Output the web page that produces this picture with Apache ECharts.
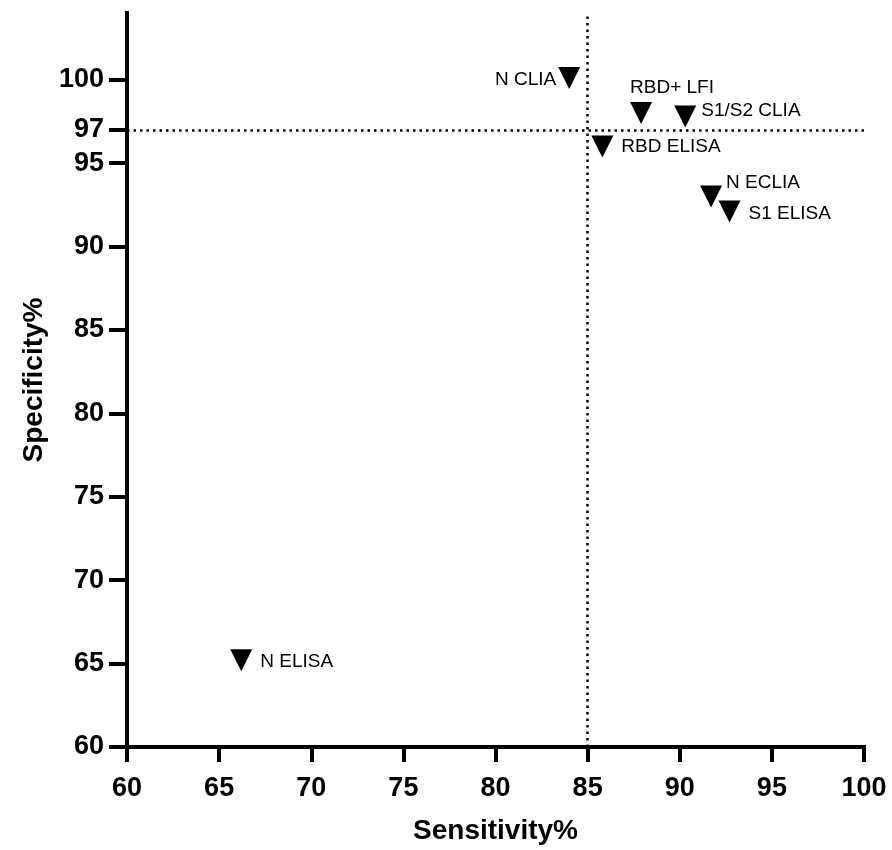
<!DOCTYPE html>
<html>
<head>
<meta charset="utf-8">
<script src="https://cdn.jsdelivr.net/npm/echarts@6/dist/echarts.min.js"></script>
<style>html,body{margin:0;padding:0;background:#fff}#c{width:892px;height:850px}</style>
</head>
<body>
<div id="c"></div>
<script>
// Data
var assayNames = ['N CLIA', 'RBD+ LFI', 'S1/S2 CLIA', 'RBD ELISA', 'N ECLIA', 'S1 ELISA', 'N ELISA'];
var sensitivity = [84.0, 87.9, 90.3, 85.8, 91.7, 92.7, 66.2];
var specificity = [100.1, 98.0, 97.8, 96.0, 93.0, 92.1, 65.2];
var xTicks = [60, 65, 70, 75, 80, 85, 90, 95, 100];
var yTicks = [60, 65, 70, 75, 80, 85, 90, 95, 97, 100];
var cutoffSensitivity = 85;
var cutoffSpecificity = 97;

// Label placement (style, not data)
var labelPlacement = [
  {pos: [-2, 13], align: 'right'},
  {pos: [0, -14], align: 'left'},
  {pos: [27, 5], align: 'left'},
  {pos: [30, 11], align: 'left'},
  {pos: [26, -3], align: 'left'},
  {pos: [30, 13], align: 'left'},
  {pos: [30, 13], align: 'left'}
];

var FONT = '"Liberation Sans", Arial, Helvetica, sans-serif';
var chart = echarts.init(document.getElementById('c'), null, {renderer: 'canvas'});

var points = assayNames.map(function (n, i) {
  return {
    name: n,
    value: [sensitivity[i], specificity[i]],
    label: {
      show: true,
      formatter: n,
      position: labelPlacement[i].pos,
      align: labelPlacement[i].align,
      verticalAlign: 'middle'
    }
  };
});

var axisCommon = {
  axisLine: {show: true, onZero: false, lineStyle: {color: '#000', width: 4, cap: 'square'}},
  axisTick: {show: true, lineStyle: {color: '#000', width: 4}},
  splitLine: {show: false},
  nameLocation: 'middle',
  nameTextStyle: {fontFamily: FONT, fontWeight: 'bold', fontSize: 28, color: '#000'}
};

chart.setOption({
  animation: false,
  backgroundColor: '#fff',
  grid: {left: 127, right: 28, top: 13, bottom: 102, containLabel: false},
  xAxis: Object.assign({}, axisCommon, {
    type: 'value',
    min: 60, max: 100, interval: 5,
    name: 'Sensitivity%',
    nameGap: 70,
    axisTick: {show: true, length: 15, lineStyle: {color: '#000', width: 4}},
    axisLabel: {
      fontFamily: FONT, fontWeight: 'bold', fontSize: 27, color: '#000', margin: 28,
      customValues: xTicks
    }
  }),
  yAxis: Object.assign({}, axisCommon, {
    type: 'value',
    min: 60, max: 104,
    name: 'Specificity%',
    nameGap: 78,
    axisTick: {show: true, length: 18, lineStyle: {color: '#000', width: 4}, customValues: yTicks},
    axisLabel: {
      fontFamily: FONT, fontWeight: 'bold', fontSize: 27, color: '#000', margin: 23,
      customValues: yTicks
    }
  }),
  series: [{
    type: 'scatter',
    symbol: 'triangle',
    symbolRotate: 180,
    symbolSize: 22,
    itemStyle: {color: '#000', opacity: 1},
    label: {fontFamily: FONT, fontSize: 19, color: '#000'},
    emphasis: {disabled: true},
    data: points,
    z: 3,
    markLine: {
      silent: true,
      symbol: ['none', 'none'],
      label: {show: false},
      lineStyle: {color: '#000', width: 2.5, type: [2.5, 4], opacity: 1},
      data: [{xAxis: cutoffSensitivity}, {yAxis: cutoffSpecificity}]
    }
  }]
});
</script>
</body>
</html>
